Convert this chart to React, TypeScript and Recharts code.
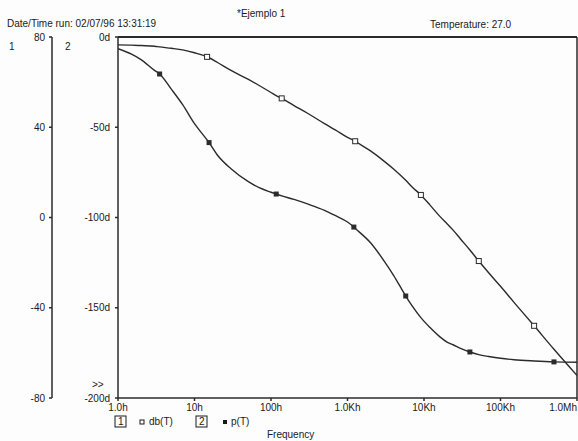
import { ComposedChart, Line, XAxis, YAxis, ReferenceLine } from "recharts";

// frequency sweep (Hz) and the two traces
const freq = [1, 1.5, 2, 3, 3.5, 5, 7, 10, 14.6, 15.5, 20, 30, 50, 70, 100, 117, 138, 200, 300, 500, 700, 1000, 1210, 1260, 2000, 3000, 4000, 5770, 7000, 9100, 12000, 16000, 20000, 24000, 30000, 39800, 52000, 70000, 100000, 150000, 275000, 500000, 1000000];
const dbT = [76.5, 76.4, 76.2, 75.9, 75.6, 75.0, 74.3, 73.0, 71.2, 70.8, 68.7, 65.2, 61.3, 58.5, 55.4, 54.0, 52.8, 49.6, 46.2, 41.6, 38.7, 35.5, 34.2, 33.8, 29.5, 25.0, 21.5, 16.5, 13.5, 10.0, 5.5, 0.6, -2.8, -5.6, -9.5, -14.4, -19.3, -24.5, -30.5, -37.6, -48, -58.4, -70];
const pT = [-6.5, -9.5, -12.5, -18.5, -20.5, -29, -37.5, -48, -57, -58.5, -65.5, -73, -80, -83.5, -86, -87, -88, -90, -92.5, -96, -99, -102.5, -105.3, -106, -114, -124, -132, -143.5, -149, -155.5, -161, -166, -169, -170.5, -172.5, -174.5, -176, -177, -178, -178.8, -179.5, -180, -180.2];

// where the trace symbols sit
const dbMarks = [14.6, 138, 1260, 9100, 52000, 275000];
const pMarks = [3.5, 15.5, 117, 1210, 5770, 39800, 500000];

const xTicks = [1, 10, 100, 1000, 10000, 100000, 1000000];
const xLabels = ["1.0h", "10h", "100h", "1.0Kh", "10Kh", "100Kh", "1.0Mh"];
const dbTicks = [80, 40, 0, -40, -80];
const pTicks = [0, -50, -100, -150, -200];

const data = freq.map((f, i) => ({ f, db: dbT[i], p: pT[i] }));

const INK = "#2b2b2b";
const FONT = "'Liberation Sans', Arial, sans-serif";
const tickStyle = { fill: "#1a1a1a", fontSize: 10, fontFamily: FONT };

const OpenDot = (props: any) => {
  const { cx, cy, payload, index } = props;
  if (!dbMarks.includes(payload.f)) return <g key={`o-${index}`} />;
  return (
    <rect key={`o-${index}`} x={cx - 2.5} y={cy - 2.5} width={5} height={5} fill="#fff" stroke={INK} strokeWidth={1} />
  );
};

const FilledDot = (props: any) => {
  const { cx, cy, payload, index } = props;
  if (!pMarks.includes(payload.f)) return <g key={`f-${index}`} />;
  return <rect key={`f-${index}`} x={cx - 2.5} y={cy - 2.5} width={5} height={5} fill={INK} />;
};

const FreqTick = (props: any) => {
  const { x, y, payload } = props;
  const i = xTicks.indexOf(payload.value);
  const last = i === xTicks.length - 1;
  return (
    <text x={x} y={y} dy="0.71em" textAnchor={last ? "end" : "middle"} {...tickStyle}>
      {xLabels[i]}
    </text>
  );
};

export default function App() {
  return (
    <div style={{ position: "absolute", left: 0, top: 0, width: 578, height: 441, background: "#fdfdfd" }}>
      <ComposedChart width={578} height={441} data={data} margin={{ top: 37, right: 1, left: 0, bottom: 23 }}>
        <XAxis
          dataKey="f"
          type="number"
          scale="log"
          domain={[1, 1000000]}
          ticks={xTicks}
          tick={<FreqTick />}
          height={20}
          tickSize={3}
          tickMargin={3}
          interval={0}
          stroke={INK}
          strokeWidth={1.5}
          allowDataOverflow
        />
        {/* axis 2 (phase) next to the plot, axis 1 (dB) outside it */}
        <YAxis
          yAxisId="a"
          orientation="left"
          width={66}
          domain={[-200, 0]}
          ticks={pTicks}
          tickFormatter={(v: number) => `${v}d`}
          tickSize={3}
          tickMargin={5}
          interval={0}
          stroke={INK}
          strokeWidth={1.5}
          tick={tickStyle}
        />
        <YAxis
          yAxisId="b"
          orientation="left"
          width={52}
          domain={[-80, 80]}
          ticks={dbTicks}
          tickSize={3}
          tickMargin={4}
          interval={0}
          stroke={INK}
          strokeWidth={1.5}
          tick={tickStyle}
        />
        <ReferenceLine yAxisId="a" y={0} stroke={INK} strokeWidth={2} />
        <ReferenceLine yAxisId="a" x={1000000} stroke={INK} strokeWidth={1.5} />
        <Line
          yAxisId="b"
          dataKey="db"
          type="monotone"
          stroke={INK}
          strokeWidth={1.4}
          dot={OpenDot}
          activeDot={false}
          isAnimationActive={false}
        />
        <Line
          yAxisId="a"
          dataKey="p"
          type="monotone"
          stroke={INK}
          strokeWidth={1.4}
          dot={FilledDot}
          activeDot={false}
          isAnimationActive={false}
        />
      </ComposedChart>

      {/* header, axis ids and legend as in the PSpice printout */}
      <svg width={578} height={441} style={{ position: "absolute", left: 0, top: 0, pointerEvents: "none" }}>
        <g fontFamily={FONT} fontSize={10} fill="#1a1a1a">
          <text x={237} y={17}>*Ejemplo 1</text>
          <text x={7} y={27}>Date/Time run: 02/07/96  13:31:19</text>
          <text x={430} y={28}>Temperature: 27.0</text>
          <text x={9} y={50}>1</text>
          <text x={65} y={50}>2</text>
          <text x={92} y={388}>&gt;&gt;</text>
          <rect x={115} y={416} width={11} height={11} fill="none" stroke="#1a1a1a" strokeWidth={1} />
          <text x={118} y={425}>1</text>
          <rect x={140} y={420} width={4} height={4} fill="#fff" stroke="#1a1a1a" strokeWidth={1} />
          <text x={149} y={425}>db(T)</text>
          <rect x={196} y={416} width={11} height={11} fill="none" stroke="#1a1a1a" strokeWidth={1} />
          <text x={199} y={425}>2</text>
          <rect x={223} y={420} width={4} height={4} fill="#1a1a1a" />
          <text x={231} y={425}>p(T)</text>
          <text x={267} y={438}>Frequency</text>
        </g>
      </svg>
    </div>
  );
}
